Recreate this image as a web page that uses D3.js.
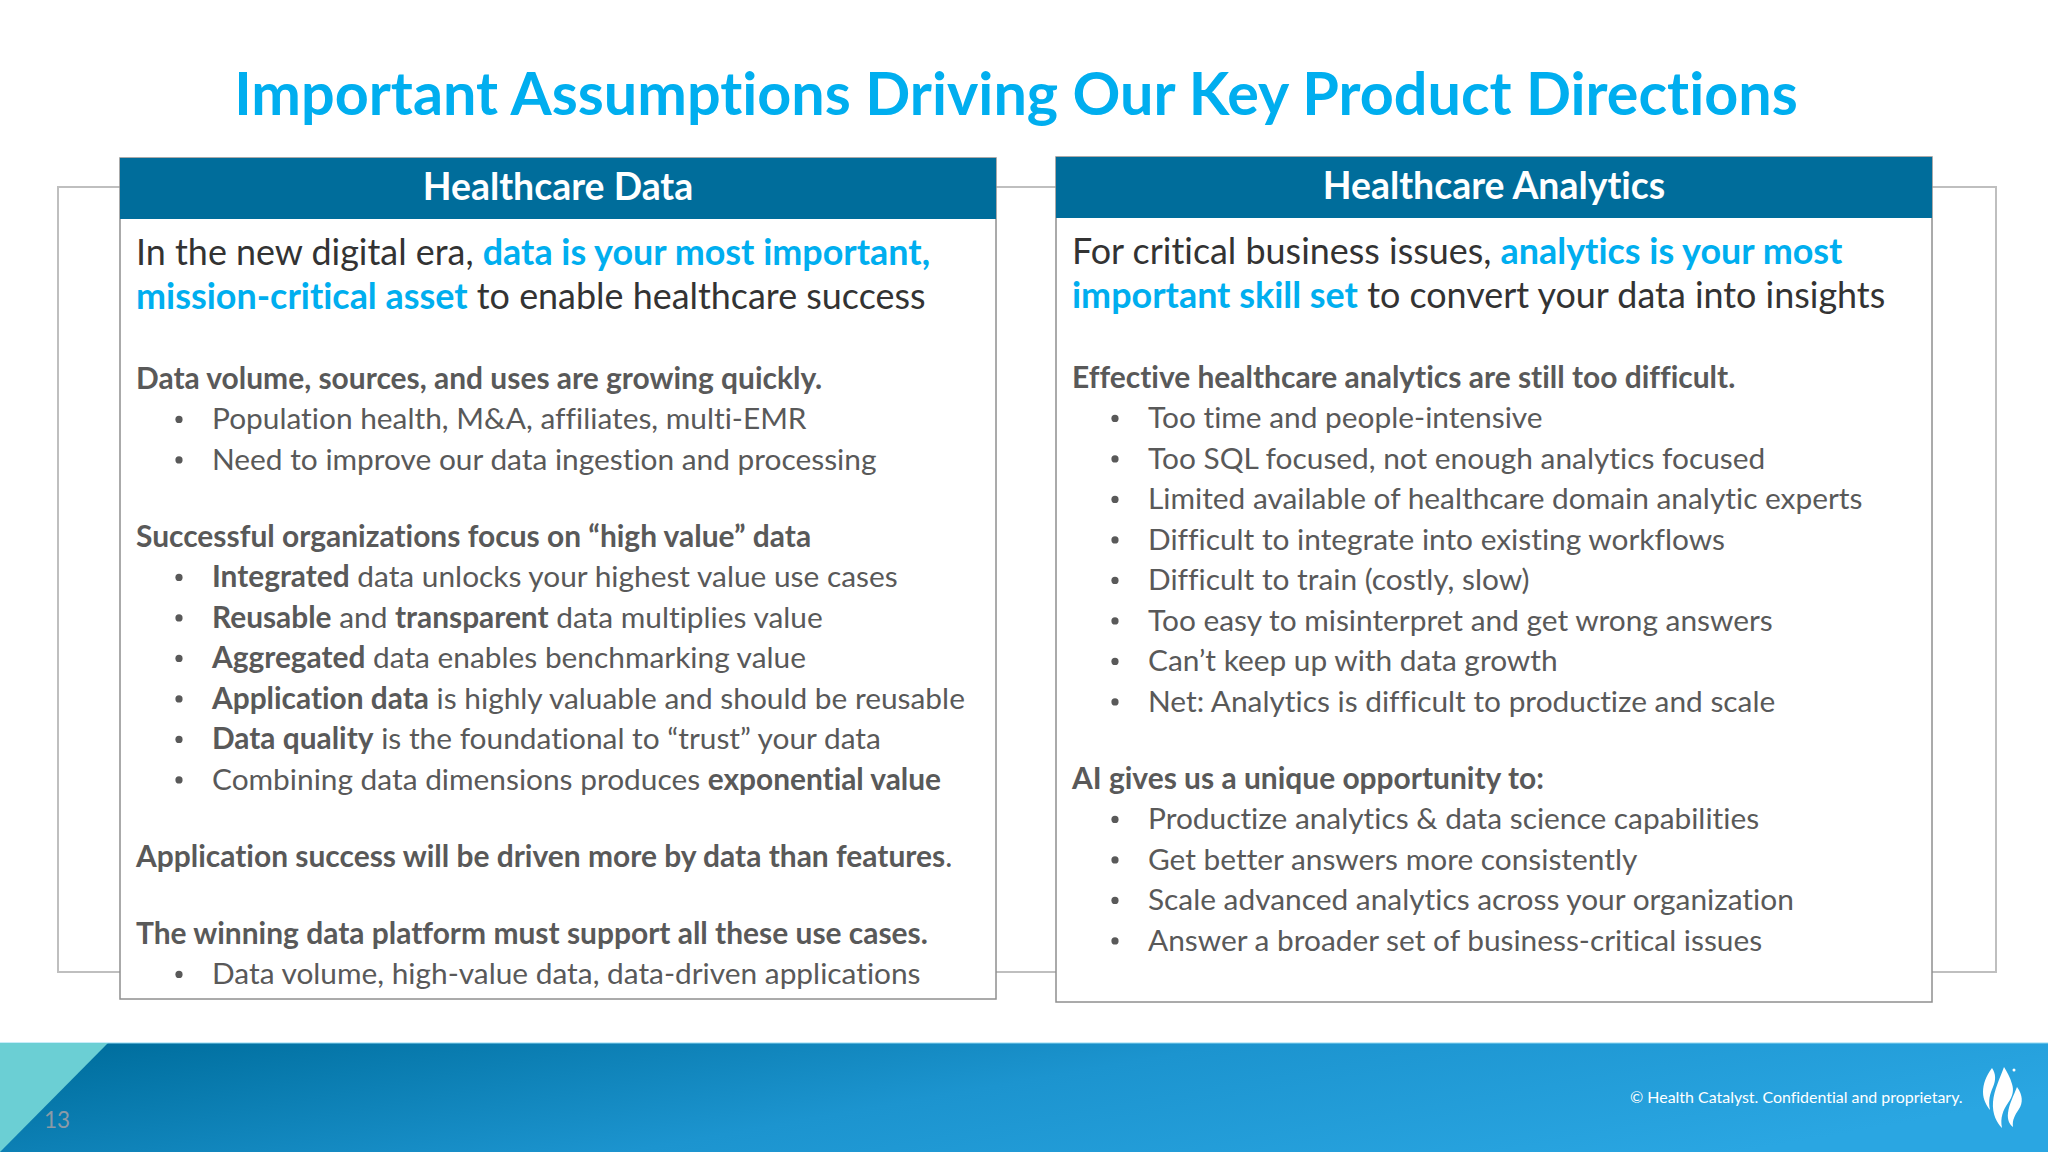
<!DOCTYPE html>
<html>
<head>
<meta charset="utf-8">
<script src="https://cdn.jsdelivr.net/npm/d3@7"></script>
<style>
  html, body { margin: 0; padding: 0; background: #fff; }
  svg { display: block; }
  text { font-family: Lato, "Open Sans", sans-serif; font-variant-ligatures: none; }
</style>
</head>
<body>
<svg id="slide" width="2048" height="1152"></svg>
<script>
const titleText = "Important Assumptions Driving Our Key Product Directions";
const panelTitles = ["Healthcare Data", "Healthcare Analytics"];
const pageNumber = "13";
const footerText = "© Health Catalyst. Confidential and proprietary.";

// every line is a list of [text, style] runs. style: n normal, b bold, a accent
const leftLead = [
  [["In the new digital era, ", "n"], ["data is your most important,", "a"]],
  [["mission-critical asset", "a"], [" to enable healthcare success", "n"]]
];
const leftBlocks = [
  { head: [["Data volume, sources, and uses are growing quickly.", "b"]], bullets: [
    [["Population health, M&A, affiliates, multi-EMR", "n"]],
    [["Need to improve our data ingestion and processing", "n"]]
  ]},
  { head: [["Successful organizations focus on “high value” data", "b"]], bullets: [
    [["Integrated", "b"], [" data unlocks your highest value use cases", "n"]],
    [["Reusable", "b"], [" and ", "n"], ["transparent", "b"], [" data multiplies value", "n"]],
    [["Aggregated", "b"], [" data enables benchmarking value", "n"]],
    [["Application data", "b"], [" is highly valuable and should be reusable", "n"]],
    [["Data quality", "b"], [" is the foundational to “trust” your data", "n"]],
    [["Combining data dimensions produces ", "n"], ["exponential value", "b"]]
  ]},
  { head: [["Application success will be driven more by data than features", "b"], [".", "n"]], bullets: [] },
  { head: [["The winning data platform must support all these use cases.", "b"]], bullets: [
    [["Data volume, high-value data, data-driven applications", "n"]]
  ]}
];

const rightLead = [
  [["For critical business issues, ", "n"], ["analytics is your most", "a"]],
  [["important skill set", "a"], [" to convert your data into insights", "n"]]
];
const rightBlocks = [
  { head: [["Effective healthcare analytics are still too difficult.", "b"]], bullets: [
    [["Too time and people-intensive", "n"]],
    [["Too SQL focused, not enough analytics focused", "n"]],
    [["Limited available of healthcare domain analytic experts", "n"]],
    [["Difficult to integrate into existing workflows", "n"]],
    [["Difficult to train (costly, slow)", "n"]],
    [["Too easy to misinterpret and get wrong answers", "n"]],
    [["Can’t keep up with data growth", "n"]],
    [["Net: Analytics is difficult to productize and scale", "n"]]
  ]},
  { head: [["AI gives us a unique opportunity to:", "b"]], bullets: [
    [["Productize analytics & data science capabilities", "n"]],
    [["Get better answers more consistently", "n"]],
    [["Scale advanced analytics across your organization", "n"]],
    [["Answer a broader set of business-critical issues", "n"]]
  ]}
];

const svg = d3.select("#slide");
const blue = "#00aeef";

const defs = svg.append("defs");
const grad = defs.append("linearGradient").attr("id", "footerFill")
  .attr("x1", 0).attr("y1", 0.2).attr("x2", 1).attr("y2", 0.5);
grad.append("stop").attr("offset", "0%").attr("stop-color", "#006f9f");
grad.append("stop").attr("offset", "50%").attr("stop-color", "#1c94cf");
grad.append("stop").attr("offset", "100%").attr("stop-color", "#2aa6e2");

// title
svg.append("text").attr("x", 1016).attr("y", 115)
  .attr("text-anchor", "middle")
  .attr("font-size", 59.3).attr("font-weight", 700).attr("fill", blue)
  .text(titleText);

// grey frame behind the panels
svg.append("rect").attr("x", 58).attr("y", 187).attr("width", 1938).attr("height", 785)
  .attr("fill", "none").attr("stroke", "#bfbfbf").attr("stroke-width", 2);

// turn lead + blocks into a flat list of rows with y positions
function layoutRows(lead, blocks, top) {
  const rows = [];
  let y = top;
  lead.forEach((runs, i) => {
    if (i > 0) y += 44.4;
    rows.push({ runs, kind: "lead", y });
  });
  blocks.forEach((block, i) => {
    y += i === 0 ? 79.5 : 77;
    rows.push({ runs: block.head, kind: "head", y });
    block.bullets.forEach((runs) => {
      y += 40.5;
      rows.push({ runs, kind: "bullet", y });
    });
  });
  return rows;
}

const panels = [
  { title: panelTitles[0], x: 120, top: 158, right: 996, bottom: 999, rows: layoutRows(leftLead, leftBlocks, 265) },
  { title: panelTitles[1], x: 1056, top: 157, right: 1932, bottom: 1002, rows: layoutRows(rightLead, rightBlocks, 264) }
];

const panel = svg.selectAll("g.panel").data(panels).join("g").attr("class", "panel");

panel.append("rect")
  .attr("x", (d) => d.x).attr("y", (d) => d.top)
  .attr("width", (d) => d.right - d.x).attr("height", (d) => d.bottom - d.top)
  .attr("fill", "#fff").attr("stroke", "#8f8f8f").attr("stroke-width", 1.5);

panel.append("rect")
  .attr("x", (d) => d.x).attr("y", (d) => d.top)
  .attr("width", (d) => d.right - d.x).attr("height", 61)
  .attr("fill", "#006d9b");

panel.append("text")
  .attr("x", (d) => (d.x + d.right) / 2).attr("y", (d) => d.top + 42)
  .attr("text-anchor", "middle")
  .attr("font-size", 37.4).attr("font-weight", 700).attr("fill", "#fff")
  .text((d) => d.title);

const fontSizes = { lead: 35.9, head: 29.95, bullet: 29.85 };

function runFill(style, kind) {
  if (style === "a") return blue;
  if (kind === "lead") return "#333333";
  return "#595959";
}

const row = panel.selectAll("text.row").data((d) => d.rows.map((r) => ({ ...r, px: d.x })))
  .join("text").attr("class", "row")
  .attr("x", (d) => d.px + (d.kind === "bullet" ? 92 : 16))
  .attr("y", (d) => d.y)
  .attr("font-size", (d) => fontSizes[d.kind]);

row.selectAll("tspan").data((d) => d.runs.map(([t, s]) => ({ t, s, kind: d.kind })))
  .join("tspan")
  .attr("font-weight", (d) => (d.s === "n" ? 400 : 700))
  .attr("fill", (d) => runFill(d.s, d.kind))
  .attr("xml:space", "preserve")
  .text((d) => d.t);

panel.selectAll("circle.dot").data((d) => d.rows.filter((r) => r.kind === "bullet").map((r) => ({ ...r, px: d.x })))
  .join("circle").attr("class", "dot")
  .attr("cx", (d) => d.px + 59).attr("cy", (d) => d.y - 10).attr("r", 3.6)
  .attr("fill", "#595959");

// footer
svg.append("rect").attr("x", 0).attr("y", 1043).attr("width", 2048).attr("height", 109)
  .attr("fill", "url(#footerFill)");
svg.append("line").attr("x1", 0).attr("x2", 2048).attr("y1", 1043).attr("y2", 1043)
  .attr("stroke", "#8fd8f2").attr("stroke-width", 1);
svg.append("path").attr("d", "M0,1043L108,1043L0,1152Z").attr("fill", "#6bcfd4");

svg.append("text").attr("x", 44).attr("y", 1128)
  .attr("font-size", 22.5).attr("fill", "#8c9aa6").text(pageNumber);
svg.append("text").attr("x", 1630).attr("y", 1103)
  .attr("font-size", 15.95).attr("fill", "#fff").text(footerText);

// flame logo
const logo = svg.append("g").attr("fill", "#fff");
logo.append("path").attr("d", "M1992,1068C1986,1076 1983,1084 1983,1092C1983,1100 1987,1106 1990,1110C1988,1100 1990,1094 1993,1087C1996,1080 1996,1074 1992,1068Z");
logo.append("path").attr("d", "M2004,1067C2000,1078 1994,1090 1993,1102C1992,1114 1997,1123 2002,1128C2000,1118 2003,1110 2008,1103C2013,1096 2014,1090 2012,1084C2010,1077 2007,1072 2004,1067Z");
logo.append("path").attr("d", "M2017,1087C2014,1095 2009,1104 2008,1113C2007,1120 2010,1125 2013,1127C2012,1120 2015,1115 2019,1109C2023,1103 2023,1095 2017,1087Z");
logo.append("circle").attr("cx", 2014).attr("cy", 1070).attr("r", 1.5);
</script>
</body>
</html>
